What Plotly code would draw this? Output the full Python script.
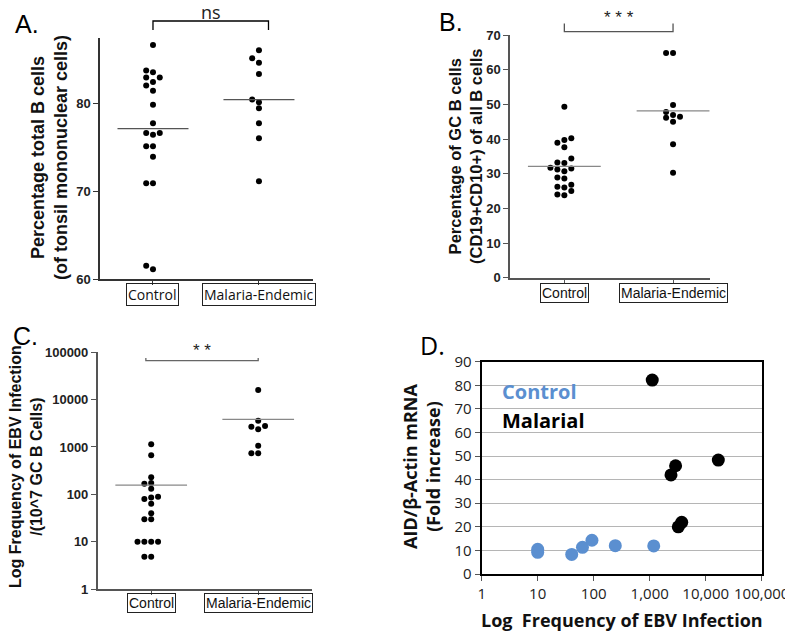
import math
import plotly.graph_objects as go

W, H = 793, 634
OFF = 8  # page body margin around the plot div
FW, FH = W - OFF, H - OFF

# Panel A - total B cells (% of tonsil mononuclear cells)
a_control = [86.6, 83.7, 83.5, 82.9, 82.9, 82.4, 82.0, 81.4, 79.8, 77.7,
             76.6, 76.4, 76.6, 75.1, 75.1, 73.9, 70.9, 70.9, 61.5, 61.1]
a_malaria = [86.0, 85.1, 84.6, 83.3, 80.4, 80.1, 79.4, 77.7, 76.0, 71.1]
a_lines = [77.1, 80.4]

# Panel B - GC B cells (% of all B cells)
b_control = [49.3, 38.9, 39.7, 40.2, 37.6, 34.4, 33.1, 33.2, 31.7, 31.2,
             30.7, 31.5, 28.6, 28.9, 26.2, 26.0, 26.8, 25.0, 23.8, 24.0]
b_malaria = [64.8, 64.8, 49.8, 47.8, 46.4, 46.9, 46.1, 45.0, 38.5, 30.3]
b_lines = [32.1, 48.1]

# Panel C - EBV infection frequency per 10^7 GC B cells
c_control = [1140, 667, 229, 167, 173, 131, 80, 86, 89, 63, 40, 29.6, 29.6,
             10, 10, 10, 10, 4.8, 4.8]
c_malaria = [16000, 3590, 2770, 2680, 2360, 1064, 735, 735]
c_lines = [157, 3840]

# Panel D - AID mRNA vs EBV infection frequency
d_ctrl_x = [10, 10, 40.5, 63, 93, 243, 1180]
d_ctrl_y = [10.5, 9.2, 8.3, 11.3, 14.3, 12.0, 11.9]
d_mal_x = [1110, 2400, 2900, 3240, 3730, 16800]
d_mal_y = [82.2, 42.0, 45.9, 20.0, 21.9, 48.3]

groups = ["Control", "Malaria-Endemic"]
log_ticks = [1, 10, 100, 1000, 10000, 100000]
a_ticks = [60, 70, 80]
b_ticks = [0, 10, 20, 30, 40, 50, 60, 70]
d_yticks = [0, 10, 20, 30, 40, 50, 60, 70, 80, 90]

ARIAL = "Liberation Sans, Arial"
SEGOE = "Open Sans"
BLUE = "#5b8fd0"


def fx(x):
    return (x - OFF) / FW


def fy(y):
    return 1 - (y - OFF) / FH


def px(x0, x1, y0, y1):
    # pixel box on the page -> paper domain
    return [fx(x0), fx(x1)], [fy(y1), fy(y0)]


def swarm(vals, cat, ppu, log=False, dot=5.5, step=0.064):
    xs = [0] * len(vals)
    placed = []
    for i in sorted(range(len(vals)), key=lambda k: vals[k]):
        p = (math.log10(vals[i]) if log else vals[i]) * ppu
        for slot in [0, -1, 1, -2, 2, -3, 3]:
            if all(s != slot or abs(p - q) >= dot for q, s in placed):
                break
        placed.append((p, slot))
        xs[i] = cat + slot * step
    return xs


def frac(v, rng):
    return (v - rng[0]) / (rng[1] - rng[0])


fig = go.Figure()

panels = [
    # axis suffix, data, lines, ppu, log, line color
    ("", a_control, a_malaria, a_lines, 8.8, False, "#555"),
    ("2", b_control, b_malaria, b_lines, 3.47, False, "#888"),
    ("3", c_control, c_malaria, c_lines, 47.3, True, "#888"),
]

for n, ctrl, mal, lines, ppu, lg, lcol in panels:
    for cat, vals in enumerate([ctrl, mal]):
        fig.add_trace(go.Scatter(
            x=swarm(vals, cat, ppu, lg), y=vals, mode="markers",
            marker=dict(color="black", size=6), xaxis="x" + n, yaxis="y" + n,
            showlegend=False, cliponaxis=False))
        fig.add_trace(go.Scatter(
            x=[cat - 0.335, cat + 0.335], y=[lines[cat], lines[cat]], mode="lines",
            line=dict(color=lcol, width=1.3), xaxis="x" + n, yaxis="y" + n,
            showlegend=False))

# panel D
fig.add_trace(go.Scatter(x=d_ctrl_x, y=d_ctrl_y, mode="markers", xaxis="x4", yaxis="y4",
                         marker=dict(color=BLUE, size=13), showlegend=False, cliponaxis=False))
fig.add_trace(go.Scatter(x=d_mal_x, y=d_mal_y, mode="markers", xaxis="x4", yaxis="y4",
                         marker=dict(color="black", size=13), showlegend=False, cliponaxis=False))

dxa, dya = px(100, 313, 38, 279)
dxb, dyb = px(510, 710, 35, 277.7)
dxc, dyc = px(97.7, 311.7, 352.3, 589)
dxd, dyd = px(481.7, 761.7, 361.7, 574)


def cat_x(dom, rng, acol, anchor):
    return dict(domain=dom, range=rng, anchor=anchor, showgrid=False, zeroline=False,
                showline=True, linecolor=acol, linewidth=1.5, tickvals=[0, 1],
                ticktext=["", ""], ticks="outside", ticklen=4, tickcolor=acol, tickwidth=1.2)


def val_y(dom, rng, acol, anchor, ticks, **kw):
    d = dict(domain=dom, range=rng, anchor=anchor, showgrid=False, zeroline=False,
             showline=True, linecolor=acol, linewidth=1.5, ticks="outside", ticklen=5,
             tickcolor=acol, tickwidth=1.2, tickvals=ticks,
             ticktext=[f"<b>{t}</b>" for t in ticks],
             tickfont=dict(family=ARIAL, size=13, color="#222"))
    d.update(kw)
    return d


fig.update_layout(
    width=FW, height=FH, margin=dict(l=0, r=0, t=0, b=0, autoexpand=False),
    plot_bgcolor="white", paper_bgcolor="white",
    xaxis=cat_x(dxa, [-0.5, 1.51], "#333", "y"),
    yaxis=val_y(dya, [60, 87.4], "#333", "x", a_ticks),
    xaxis2=cat_x(dxb, [-0.5, 1.34], "#555", "y2"),
    yaxis2=val_y(dyb, [0, 70], "#555", "x2", b_ticks),
    xaxis3=cat_x(dxc, [-0.5, 1.5], "#555", "y3"),
    yaxis3=val_y(dyc, [0, 5], "#555", "x3", log_ticks, type="log"),
    xaxis4=dict(domain=dxd, anchor="y4", type="log", range=[0, 5], showgrid=False,
                zeroline=False, showline=True, mirror=True, linecolor="black", linewidth=2,
                tickvals=log_ticks, ticktext=[f"{t:,}" for t in log_ticks],
                ticks="outside", ticklen=5, tickcolor="#555",
                tickfont=dict(family=SEGOE, size=15, color="#222")),
    yaxis4=dict(domain=dyd, anchor="x4", range=[0, 90], showgrid=True, gridcolor="#b5b5b5",
                gridwidth=1, zeroline=False, showline=True, mirror=True, linecolor="black",
                linewidth=2, tickvals=d_yticks, ticks="outside", ticklen=5,
                tickcolor="#555", tickfont=dict(family=SEGOE, size=15, color="#222")),
)

ann = []
shapes = []

# boxed category labels
for n, xr, fam, sh in [("", [-0.5, 1.51], SEGOE, -4), ("2", [-0.5, 1.34], ARIAL, -5),
                       ("3", [-0.5, 1.5], ARIAL, -4)]:
    for cat, g in enumerate(groups):
        ann.append(dict(text=g, xref=f"x{n} domain", yref=f"y{n} domain",
                        x=frac(cat, xr), y=0, yshift=sh, yanchor="top", xanchor="center",
                        showarrow=False, bordercolor="#222", borderwidth=1, borderpad=1,
                        font=dict(family=fam, size=14, color="#111")))

# significance brackets
brackets = [
    ("", [-0.5, 1.51], 241, 0, 1.09, 17, 9, "ns", "black", SEGOE, 18, 9),
    ("2", [-0.5, 1.34], 242.7, 0, 1.0, 3.3, -8.3, "* * *", "#555", ARIAL, 17, 14),
    ("3", [-0.5, 1.5], 236.7, -0.05, 1.0, -8.4, -2.6, "* *", "#666", ARIAL, 17, 10),
]
for n, xr, hpx, c0, c1, up, drop, lab, col, fam, fs, lab_up in brackets:
    yb = 1 + up / hpx
    yd = yb - drop / hpx
    x0, x1 = frac(c0, xr), frac(c1, xr)
    shapes.append(dict(type="path", xref=f"x{n} domain", yref=f"y{n} domain",
                       path=f"M {x0} {yd} L {x0} {yb} L {x1} {yb} L {x1} {yd}",
                       line=dict(color=col, width=1.3)))
    ann.append(dict(text=lab, xref=f"x{n} domain", yref=f"y{n} domain", x=(x0 + x1) / 2,
                    y=yb, yshift=lab_up, yanchor="middle", showarrow=False,
                    font=dict(family=fam, size=fs, color="#222")))

# y-axis titles
ytitles = [
    (49, 158, "Percentage total B cells<br>(of tonsil mononuclear cells)", ARIAL, 18),
    (466, 156, "Percentage of GC B cells<br>(CD19+CD10+) of all B cells", ARIAL, 16.5),
    (26, 467, "Log Frequency of EBV Infection<br>/(10^7 GC B Cells)", ARIAL, 16),
    (421, 467, "AID/β-Actin mRNA<br>(Fold increase)", SEGOE, 18),
]
for x, y, t, fam, fs in ytitles:
    ann.append(dict(text=f"<b>{t}</b>", xref="paper", yref="paper", x=fx(x), y=fy(y),
                    textangle=-90, showarrow=False, xanchor="center", yanchor="middle",
                    font=dict(family=fam, size=fs, color="#111")))

# panel letters
for x, y, t in [(27, 24, "A."), (451, 22, "B."), (25, 336, "C."), (432, 345, "D.")]:
    ann.append(dict(text=t, xref="paper", yref="paper", x=fx(x), y=fy(y),
                    showarrow=False, xanchor="center", yanchor="middle",
                    font=dict(family=SEGOE if t == "D." else ARIAL, size=25, color="black")))

# panel D x title and in-plot legend text
ann.append(dict(text="<b>Log  Frequency of EBV Infection</b>", xref="x4 domain", yref="paper",
                x=0.5, y=fy(620), showarrow=False, yanchor="middle",
                font=dict(family=SEGOE, size=18, color="#111")))
ann.append(dict(text="<b>Control</b>", xref="x4 domain", yref="y4 domain", x=0.065, y=0.859,
                xanchor="left", yanchor="middle", showarrow=False,
                font=dict(family=SEGOE, size=20, color=BLUE)))
ann.append(dict(text="<b>Malarial</b>", xref="x4 domain", yref="y4 domain", x=0.065, y=0.725,
                xanchor="left", yanchor="middle", showarrow=False,
                font=dict(family=SEGOE, size=20, color="black")))

fig.update_layout(annotations=ann, shapes=shapes)
fig.write_html("out.html")
